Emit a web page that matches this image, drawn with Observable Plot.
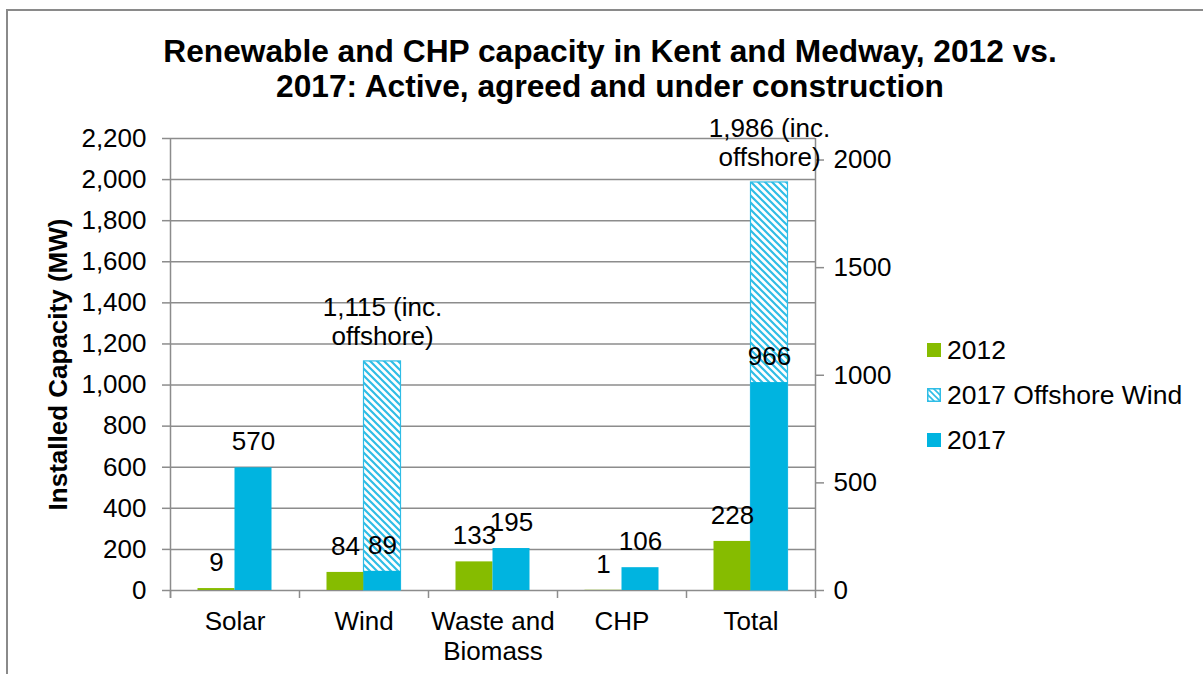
<!DOCTYPE html>
<html>
<head>
<meta charset="utf-8">
<script src="https://cdn.jsdelivr.net/npm/d3@7"></script>
<script src="https://cdn.jsdelivr.net/npm/@observablehq/plot@0.6"></script>
<style>
  html, body { margin: 0; padding: 0; background: #fff; overflow: hidden; }
  #wrap { position: relative; width: 1203px; height: 674px; font-family: "Liberation Sans", Arial, sans-serif; color: #000; }
  #border { position: absolute; left: 6px; top: 9px; width: 1300px; height: 800px; border: 2px solid #8a8a8a; box-sizing: border-box; }
  #title { position: absolute; left: 0; top: 0; width: 1220px; height: 110px; box-sizing: border-box; padding-top: 34px; text-align: center; font-weight: bold; font-size: 31.7px; line-height: 35px; }
  #chart { position: absolute; left: 0; top: 110px; }
  .leg { position: absolute; left: 927px; height: 30px; display: flex; align-items: center; font-size: 26.5px; white-space: nowrap; }
  .sw { width: 14px; height: 14px; margin-right: 6px; flex: none; }
</style>
</head>
<body>
<div id="wrap">
  <div id="border"></div>
  <div id="title">Renewable and CHP capacity in Kent and Medway, 2012 vs.<br>2017: Active, agreed and under construction</div>
  <div id="chart"></div>
  <div id="legend"></div>
</div>
<script>
// ---- data ----
const categories = ["Solar", "Wind", "Waste and Biomass", "CHP", "Total"];
const categoryLabels = ["Solar", "Wind", "Waste and\nBiomass", "CHP", "Total"];
const values2012 = [9, 84, 133, 1, 228];
const values2017 = [570, 89, 195, 106, 966];
const offshoreCategories = ["Wind", "Total"];
const offshoreTotals = [1115, 1986];
const leftTicks = [0, 200, 400, 600, 800, 1000, 1200, 1400, 1600, 1800, 2000, 2200];
const rightTicks = [0, 500, 1000, 1500, 2000];
const seriesNames = ["2012", "2017 Offshore Wind", "2017"];
const leftMax = 2200;
const rightMax = 2100;

// ---- styles ----
const green = "#86bc00";
const blue = "#00b4e0";
const hatchBlue = "#2fbde6";
const gray = "#8c8c8c";
const font = "Liberation Sans, Arial, sans-serif";

const k = leftMax / rightMax; // secondary (right) axis -> primary scale
const rows2012 = categories.map((c, i) => ({cat: c, value: values2012[i]}));
const rows2017 = categories.map((c, i) => ({cat: c, value: values2017[i]}));
const rowsOff = offshoreCategories.map((c, i) => ({cat: c, value: offshoreTotals[i]}));
const labelOf = new Map(categories.map((c, i) => [c, categoryLabels[i]]));

const W = 910, H = 564, mL = 170, mR = 95, mT = 28, mB = 84;
const bw = (W - mL - mR) / categories.length;   // band width
const barW = 37;
const outer = (bw - 2 * barW) / 2;
const frameH = H - mT - mB;

const chart = Plot.plot({
  width: W, height: H,
  marginLeft: mL, marginRight: mR, marginTop: mT, marginBottom: mB,
  style: {fontFamily: font, fontSize: "26px", color: "#000", background: "transparent", overflow: "visible"},
  x: {domain: categories, padding: 0, axis: null},
  y: {domain: [0, leftMax], axis: null},
  marks: [
    Plot.gridY(leftTicks, {stroke: gray, strokeOpacity: 1, strokeWidth: 1.5}),
    // offshore (primary axis), hatched
    Plot.barY(rowsOff, {x: "cat", y: "value", fill: "url(#hatch)", stroke: hatchBlue, strokeWidth: 1.2,
      insetLeft: outer + barW, insetRight: outer}),
    // 2012 and 2017 on the secondary axis
    Plot.barY(rows2012, {x: "cat", y: d => d.value * k, fill: green, insetLeft: outer, insetRight: outer + barW}),
    Plot.barY(rows2017, {x: "cat", y: d => d.value * k, fill: blue, insetLeft: outer + barW, insetRight: outer}),
    // category boundary ticks and side axis lines
    Plot.ruleX(categories, {x: d => d, dx: -bw / 2, insetTop: frameH, insetBottom: -8, stroke: gray, strokeWidth: 1.5}),
    Plot.ruleX([categories[0]], {x: d => d, dx: -bw / 2, insetBottom: -8, stroke: gray, strokeWidth: 1.5}),
    Plot.ruleX([categories[categories.length - 1]], {x: d => d, dx: bw / 2, insetBottom: -8, stroke: gray, strokeWidth: 1.5}),
    // axes
    Plot.axisY(leftTicks, {anchor: "left", tickSize: 8, tickPadding: 16, stroke: gray, strokeWidth: 1.5,
      fill: "#000", tickFormat: d3.format(","), label: null}),
    Plot.axisY(rightTicks.map(t => t * k), {anchor: "right", tickSize: 8, tickPadding: 10, stroke: gray, strokeWidth: 1.5,
      fill: "#000", tickFormat: t => String(Math.round(t / k)), label: null}),
    Plot.axisX({tickSize: 0, tickPadding: 18, tickFormat: c => labelOf.get(c), lineHeight: 1.15, label: null, fill: "#000"}),
    Plot.text(["Installed Capacity (MW)"], {frameAnchor: "left", textAnchor: "middle", text: d => d, rotate: -90, dx: -112,
      fontWeight: "bold", fontSize: 26, fill: "#000"}),
    // data labels
    Plot.text(rows2012, {x: "cat", y: d => d.value * k, text: d => String(d.value), dx: -barW / 2, dy: -26, fill: "#000"}),
    Plot.text(rows2017, {x: "cat", y: d => d.value * k, text: d => String(d.value), dx: barW / 2, dy: -26, fill: "#000"}),
    Plot.text(rowsOff, {x: "cat", y: "value", text: d => d3.format(",")(d.value) + " (inc.\noffshore)",
      dx: barW / 2, dy: -16, lineAnchor: "bottom", lineHeight: 1.15, fill: "#000"})
  ]
});

// hatch pattern definition
const svg = d3.select(chart);
const defs = svg.insert("defs", ":first-child");
const pat = defs.append("pattern").attr("id", "hatch").attr("patternUnits", "userSpaceOnUse")
  .attr("width", 7).attr("height", 7);
pat.append("rect").attr("width", 7).attr("height", 7).attr("fill", "#fff");
pat.append("path").attr("d", "M-1,-1 L8,8 M-1,6 L1,8 M6,-1 L8,1")
  .attr("stroke", hatchBlue).attr("stroke-width", 2.2);
document.getElementById("chart").appendChild(chart);

// legend
const legend = document.getElementById("legend");
const legendCenters = [350, 395, 440];
const swatchFills = [green, "url(#hatchL)", blue];
seriesNames.forEach((name, i) => {
  const row = document.createElement("div");
  row.className = "leg";
  row.style.top = (legendCenters[i] - 15) + "px";
  const sw = document.createElementNS("http://www.w3.org/2000/svg", "svg");
  sw.setAttribute("class", "sw");
  sw.setAttribute("width", 14); sw.setAttribute("height", 14);
  const s = d3.select(sw);
  if (i === 1) {
    const p = s.append("defs").append("pattern").attr("id", "hatchL").attr("patternUnits", "userSpaceOnUse")
      .attr("width", 6).attr("height", 6);
    p.append("rect").attr("width", 6).attr("height", 6).attr("fill", "#fff");
    p.append("path").attr("d", "M-1,-1 L7,7 M-1,5 L1,7 M5,-1 L7,1").attr("stroke", hatchBlue).attr("stroke-width", 1.6);
    s.append("rect").attr("x", 0.75).attr("y", 0.75).attr("width", 12.5).attr("height", 12.5)
      .attr("fill", "url(#hatchL)").attr("stroke", hatchBlue).attr("stroke-width", 1.5);
  } else {
    s.append("rect").attr("width", 14).attr("height", 14).attr("fill", swatchFills[i]);
  }
  row.appendChild(sw);
  const t = document.createElement("span");
  t.textContent = name;
  row.appendChild(t);
  legend.appendChild(row);
});
</script>
</body>
</html>
